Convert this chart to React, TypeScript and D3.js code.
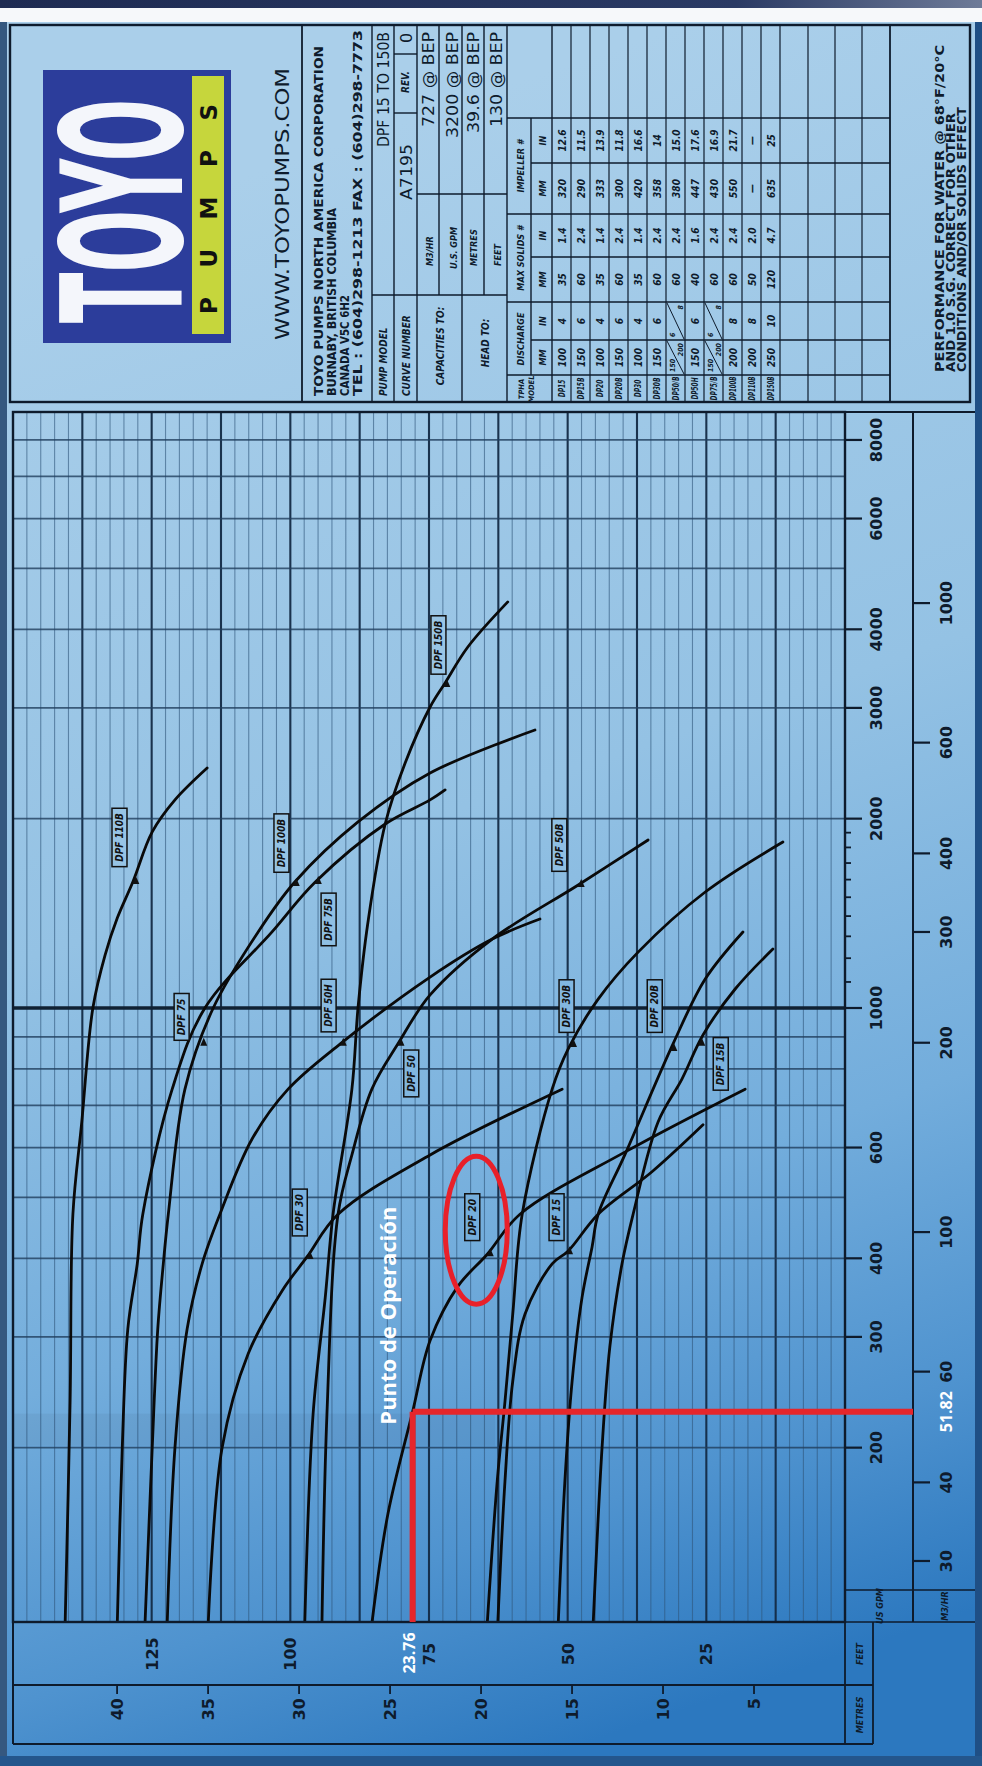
import React from "react";
import * as d3 from "d3";

const W = 982;
const H = 1766;
const GPM_PER_M3H = 4.40287;
const FT_PER_M = 3.28084;

// Flow scale ticks (U.S. GPM and m3/h), flow grid, head ticks
const gpmTicks = [200, 300, 400, 600, 1000, 2000, 3000, 4000, 6000, 8000];
const gpmMinorTicks = [1100, 1200, 1300, 1400, 1500, 1600, 1700, 1800, 1900];
const m3hTicks = [30, 40, 60, 100, 200, 300, 400, 600, 1000];
const flowGrid = [200, 300, 400, 500, 600, 700, 800, 900, 1000, 2000, 3000, 4000, 5000, 6000, 7000, 8000];
const feetTicks = [25, 50, 75, 100, 125];
const metreTicks = [5, 10, 15, 20, 25, 30, 35, 40];

// Head-capacity curves: [U.S. GPM, head ft]
const dpf110B = [[105, 140.6], [238, 139.7], [470, 139.2], [659, 137.6], [1000, 135.6], [1214, 133.4], [1390, 131.2], [1586, 128.4], [1905, 124.9], [2142, 120.8], [2407, 115.0]];
const dpf75 = [[105, 131.2], [200, 130.3], [309, 129.3], [392, 127.6], [470, 126.6], [743, 121.3], [1000, 115.4], [1321, 103.3], [1586, 95.5], [1961, 82.9], [2142, 74.8], [2222, 72.1]];
const dpf100B = [[105, 126.2], [200, 124.9], [309, 123.9], [392, 122.9], [470, 122.0], [743, 119.0], [1000, 113.9], [1321, 105.8], [1586, 99.2], [1976, 87.8], [2364, 74.8], [2767, 55.9]];
const dpf50H = [[105, 122.2], [200, 120.8], [309, 118.6], [392, 115.9], [470, 112.7], [619, 106.9], [743, 100.4], [877, 91.0], [1120, 74.8], [1287, 63.6], [1385, 55.0]];
const dpf50 = [[105, 94.3], [226, 93.4], [470, 91.4], [584, 88.9], [743, 85.3], [877, 80.6], [1049, 74.8], [1287, 63.6], [1569, 48.1], [1850, 35.5]];
const dpf150B = [[105, 97.4], [226, 95.9], [347, 93.7], [470, 92.3], [743, 88.9], [1000, 87.8], [1370, 86.0], [1961, 82.9], [2452, 79.3], [3010, 74.8], [3287, 72.1], [3749, 68.0], [4422, 60.8]];
const dpf30 = [[105, 114.8], [200, 112.3], [282, 107.6], [355, 101.5], [402, 97.0], [470, 91.4], [584, 74.8], [743, 51.0]];
const dpf30B = [[105, 64.5], [177, 62.7], [237, 61.3], [326, 59.9], [470, 58.2], [743, 52.8], [861, 49.9], [1033, 44.5], [1227, 37.3], [1529, 25.2], [1836, 11.2]];
const dpf20 = [[105, 85.3], [157, 82.4], [228.2, 77.95], [296, 74.8], [361, 69.8], [406, 64.5], [470, 58.6], [590, 39.7], [743, 18.0]];
const dpf15 = [[105, 62.6], [177, 61.3], [255, 59.9], [326, 57.7], [392, 52.8], [411, 49.9], [470, 44.5], [549, 34.8], [652, 25.6]];
const dpf20B = [[105, 51.7], [177, 50.5], [255, 49.2], [347, 47.4], [417, 45.6], [470, 44.5], [584, 39.7], [877, 31.0], [1112, 25.2], [1321, 18.4]];
const dpf15B = [[105, 45.4], [200, 43.8], [289, 42.4], [392, 40.2], [470, 38.2], [659, 33.7], [771, 29.4], [906, 25.6], [1072, 19.8], [1241, 13.0]];

const curves = [dpf110B, dpf75, dpf100B, dpf50H, dpf50, dpf150B, dpf30, dpf30B, dpf20, dpf15, dpf20B, dpf15B];

// Model tags: text, tag centre [GPM, ft], curve carrying the BEP arrow, arrow flow (GPM)
const tags = [
  { text: "DPF 110B", at: [1867, 130.8], curve: dpf110B, arrow: 1586 },
  { text: "DPF 100B", at: [1829, 101.6], curve: dpf100B, arrow: 1574 },
  { text: "DPF 75B", at: [1383, 93.1], curve: dpf75, arrow: 1586 },
  { text: "DPF 75", at: [968, 119.6], curve: dpf100B, arrow: 877 },
  { text: "DPF 50H", at: [1009, 93.1], curve: dpf50H, arrow: 877 },
  { text: "DPF 50", at: [787, 78.2], curve: dpf50, arrow: 877 },
  { text: "DPF 50B", at: [1816, 51.5], curve: dpf50, arrow: 1569 },
  { text: "DPF 30B", at: [1007, 50.2], curve: dpf30B, arrow: 873 },
  { text: "DPF 20B", at: [1007, 34.3], curve: dpf20B, arrow: 861 },
  { text: "DPF 15B", at: [815, 22.4], curve: dpf15B, arrow: 877 },
  { text: "DPF 30", at: [473, 98.3], curve: dpf30, arrow: 402 },
  { text: "DPF 20", at: [465, 67.2], curve: dpf20, arrow: 406 },
  { text: "DPF 15", at: [465, 52.0], curve: dpf15, arrow: 409 },
  { text: "DPF 150B", at: [3777, 73.3], curve: dpf150B, arrow: 3263 },
];

// Operating point: 51.82 m3/h at 23.76 m
const opFlowM3h = 51.82;
const opHeadM = 23.76;

// Model data table
const tableModels = ["DP15", "DP15B", "DP20", "DP20B", "DP30", "DP30B", "DP50/B", "DP50H", "DP75/B", "DP100B", "DP110B", "DP150B"];
const dischargeMM = ["100", "150", "100", "150", "100", "150", "150/200", "150", "150/200", "200", "200", "250"];
const dischargeIN = ["4", "6", "4", "6", "4", "6", "6/8", "6", "6/8", "8", "8", "10"];
const solidsMM = ["35", "60", "35", "60", "35", "60", "60", "40", "60", "60", "50", "120"];
const solidsIN = ["1.4", "2.4", "1.4", "2.4", "1.4", "2.4", "2.4", "1.6", "2.4", "2.4", "2.0", "4.7"];
const impellerMM = ["320", "290", "333", "300", "420", "358", "380", "447", "430", "550", "\u2014", "635"];
const impellerIN = ["12.6", "11.5", "13.9", "11.8", "16.6", "14", "15.0", "17.6", "16.9", "21.7", "\u2014", "25"];

const addressLines = [
  "TOYO PUMPS NORTH AMERICA CORPORATION",
  "BURNABY, BRITISH COLUMBIA",
  "CANADA V5C 6H2",
  "TEL : (604)298-1213 FAX : (604)298-7773",
];
const noteLines = [
  "PERFORMANCE FOR WATER @ 68\u00b0F/20\u00b0C",
  "AND 1.0 S.G. CORRECT FOR OTHER",
  "CONDITIONS AND/OR SOLIDS EFFECT",
];

const INK = "#0e1b2c";
const NARROW = "'Liberation Sans Narrow', 'DejaVu Sans Condensed', 'Roboto Condensed', 'Liberation Sans', sans-serif";
const WIDE = "'DejaVu Sans', 'Open Sans', sans-serif";

// page background gradient (screen space)
const BG = { x1: 0, y1: 260, x2: 520, y2: 1766 };
const bgStops: [number, string][] = [
  [0, "#aacfea"],
  [0.42, "#94c2e4"],
  [0.68, "#73addc"],
  [0.86, "#4f93cf"],
  [1, "#2c78bf"],
];
function bgAt(x: number, y: number) {
  const dx = BG.x2 - BG.x1;
  const dy = BG.y2 - BG.y1;
  let t = ((x - BG.x1) * dx + (y - BG.y1) * dy) / (dx * dx + dy * dy);
  t = Math.max(0, Math.min(1, t));
  for (let i = 1; i < bgStops.length; i++) {
    if (t <= bgStops[i][0]) {
      const k = (t - bgStops[i - 1][0]) / (bgStops[i][0] - bgStops[i - 1][0]);
      return d3.interpolateRgb(bgStops[i - 1][1], bgStops[i][1])(k);
    }
  }
  return bgStops[bgStops.length - 1][1];
}

function headAt(points: number[][], q: number) {
  for (let i = 1; i < points.length; i++) {
    const [q0, h0] = points[i - 1];
    const [q1, h1] = points[i];
    if (q <= q1) {
      const t = (Math.log(q) - Math.log(q0)) / (Math.log(q1) - Math.log(q0));
      return h0 + t * (h1 - h0);
    }
  }
  return points[points.length - 1][1];
}

export default function App() {
  // Landscape frame: u runs along flow, v runs down the head axis.
  const flow = d3.scaleLog().domain([1000, 10000]).range([758, 1387]);
  const head = d3.scaleLinear().domain([0, 150]).range([845, 13]);
  const U0 = 144;
  const U1 = 1354;
  const V0 = head(150);
  const V1 = head(0);
  const VAX = 913; // m3/h axis line
  const VR = 975;

  const line = d3
    .line()
    .x((d: any) => flow(d[0]))
    .y((d: any) => head(d[1]))
    .curve(d3.curveCatmullRom.alpha(0.5));

  const headLines: number[] = d3.range(2.5, 150, 2.5);

  // Title block layout (landscape)
  const TB = { u0: 1364, u1: 1741, v0: 10, v1: 970 };
  const rowTop = 552;
  const rowH = 19;
  const emptyRows = [808, 835, 862];
  const tableEnd = 890;
  const colX = [1364, 1391, 1426, 1464, 1509, 1552, 1603, 1648];
  const cols = [tableModels, dischargeMM, dischargeIN, solidsMM, solidsIN, impellerMM, impellerIN];

  const opQ = opFlowM3h * GPM_PER_M3H;
  const opH = opHeadM * FT_PER_M;

  const tb: any[] = [];
  const L = (u1: number, v1: number, u2: number, v2: number, w = 1.4, k = "") =>
    tb.push(<line key={"l" + tb.length + k} x1={u1} y1={v1} x2={u2} y2={v2} stroke={INK} strokeWidth={w} />);

  // horizontal rules
  [302, 372, 394, 417, 462, 507, 552].forEach((v) => L(TB.u0, v, TB.u1, v, v === 302 ? 1.8 : 1.4));
  for (let i = 1; i <= 12; i++) L(TB.u0, rowTop + i * rowH, TB.u1, rowTop + i * rowH, 1.2);
  emptyRows.forEach((v) => L(TB.u0, v, TB.u1, v, 1.2));
  L(TB.u0, tableEnd, TB.u1, tableEnd, 1.8);
  // pump model / curve number dividers
  L(1471, 372, 1471, 417);
  L(1653, 394, 1653, 417);
  L(1712, 394, 1712, 417);
  // capacities / head
  L(1471, 417, 1471, 507);
  L(1572, 417, 1572, 507);
  L(1471, 439, TB.u1, 439);
  L(1471, 484, TB.u1, 484);
  // table columns
  [1391, 1464, 1552, 1648].forEach((u) => L(u, 507, u, tableEnd));
  [1426, 1509, 1603].forEach((u) => L(u, 531, u, tableEnd));
  L(1391, 531, 1648, 531);

  const txt = (key: string, u: number, v: number, s: string, size: number, opts: any = {}) =>
    tb.push(
      <text
        key={key}
        x={u}
        y={v}
        fontSize={size}
        fontFamily={opts.family || NARROW}
        fontWeight={opts.weight || 700}
        fontStyle={opts.italic === false ? "normal" : "italic"}
        textAnchor={opts.anchor || "start"}
        textLength={opts.len}
        lengthAdjust={opts.len ? "spacingAndGlyphs" : undefined}
        fill={opts.fill || INK}
      >
        {s}
      </text>
    );

  addressLines.forEach((s, i) => txt("addr" + i, 1370, 323 + i * 13, s, 12.5, { italic: false, len: [350, 188, 101, 366][i] }));
  const VAL = { family: WIDE, weight: 400, italic: false, anchor: "end" };
  txt("pm", 1370, 387, "PUMP MODEL", 10);
  txt("pmv", 1734, 389, "DPF 15 TO 150B", 16, { ...VAL, len: 115 });
  txt("cn", 1370, 410, "CURVE NUMBER", 10);
  txt("cnv", 1594, 412, "A7195", 16, { ...VAL, anchor: "middle", len: 56 });
  txt("rev", 1684, 409, "REV.", 10, { anchor: "middle" });
  txt("revv", 1728, 412, "0", 16, { ...VAL, anchor: "middle" });
  txt("cap", 1420, 444, "CAPACITIES TO:", 10, { anchor: "middle" });
  txt("capu1", 1500, 433, "M3/HR", 9);
  txt("capu2", 1497, 457, "U.S. GPM", 9);
  txt("capv1", 1734, 434, "727 @ BEP", 16, { ...VAL, len: 95 });
  txt("capv2", 1734, 458, "3200 @ BEP", 16, { ...VAL, len: 106 });
  txt("hd", 1423, 489, "HEAD TO:", 10, { anchor: "middle" });
  txt("hdu1", 1500, 477, "METRES", 9);
  txt("hdu2", 1500, 501, "FEET", 9);
  txt("hdv1", 1734, 479, "39.6 @ BEP", 16, { ...VAL, len: 101 });
  txt("hdv2", 1734, 502, "130 @ BEP", 16, { ...VAL, len: 95 });
  txt("th1", 1377, 524, "TPHA", 7.5, { anchor: "middle" });
  txt("th2", 1377, 534, "MODEL", 7.5, { anchor: "middle" });
  txt("th3", 1427, 524, "DISCHARGE", 9, { anchor: "middle" });
  txt("th4", 1508, 524, "MAX SOLIDS #", 9, { anchor: "middle" });
  txt("th5", 1600, 524, "IMPELLER #", 9, { anchor: "middle" });
  ["MM", "IN", "MM", "IN", "MM", "IN"].forEach((s, i) =>
    txt("sub" + i, (colX[i + 1] + colX[i + 2]) / 2, 546, s, 9, { anchor: "middle" })
  );
  cols.forEach((col, c) =>
    col.forEach((s, r) => {
      const u = (colX[c] + colX[c + 1]) / 2;
      const vTop = rowTop + r * rowH;
      if (s.includes("/") && c > 0) {
        const [a, b] = s.split("/");
        L(colX[c] + 1, vTop + rowH - 1, colX[c + 1] - 1, vTop + 1, 1, "d" + c + r);
        txt("s" + c + "-" + r + "a", colX[c] + 3, vTop + 9, a, 7, {});
        txt("s" + c + "-" + r + "b", colX[c + 1] - 3, vTop + 17, b, 7, { anchor: "end" });
      } else if (c === 0) {
        txt("s" + c + "-" + r, u, vTop + 13, s, 8, { anchor: "middle", len: Math.min(24, s.length * 4.4) });
      } else {
        txt("s" + c + "-" + r, u, vTop + 13.5, s, 10, { anchor: "middle" });
      }
    })
  );
  noteLines.forEach((s, i) => txt("note" + i, 1394, 944 + i * 11, s, 11.5, { italic: false, len: [327, 259, 265][i] }));

  return (
    <div style={{ position: "absolute", left: 0, top: 0, width: W, height: H }}>
      <svg width={W} height={H} style={{ display: "block" }}>
        <defs>
          <linearGradient id="bg" gradientUnits="userSpaceOnUse" x1={BG.x1} y1={BG.y1} x2={BG.x2} y2={BG.y2}>
            {bgStops.map(([o, c]) => (
              <stop key={o} offset={o} stopColor={c} />
            ))}
          </linearGradient>
          <linearGradient id="topband" x1="0" y1="0" x2="1" y2="0">
            <stop offset="0" stopColor="#1e2b52" />
            <stop offset="0.75" stopColor="#2a3a64" />
            <stop offset="1" stopColor="#6e7b98" />
          </linearGradient>
          <clipPath id="plotClip">
            <rect x={U0} y={V0} width={U1 - U0} height={V1 - V0} />
          </clipPath>
        </defs>

        <rect x={0} y={0} width={W} height={H} fill="url(#bg)" />

        <g transform={`translate(0,${H}) rotate(-90)`}>
          {/* title block */}
          <rect x={TB.u0} y={TB.v0} width={TB.u1 - TB.u0} height={TB.v1 - TB.v0} fill="none" stroke={INK} strokeWidth={2.4} />
          <rect x={1423} y={43} width={273} height={188} fill="#2c3d9b" />
          <text transform="translate(1443,182) scale(0.44,1)" x={0} y={0} fontSize={168} fontFamily={WIDE} fontWeight={700} fill="#f4f6fb">
            TOYO
          </text>
          <rect x={1432} y={192} width={258} height={32} fill="#c6d63c" />
          <text x={1452} y={217} fontSize={23} fontFamily={WIDE} fontWeight={700} fill="#111" textLength={210} lengthAdjust="spacing">
            PUMPS
          </text>
          <text x={1562} y={289} fontSize={20} fontFamily={WIDE} fontWeight={400} fill={INK} textAnchor="middle" textLength={272} lengthAdjust="spacingAndGlyphs">
            WWW.TOYOPUMPS.COM
          </text>
          {tb}

          {/* plot grid */}
          <g clipPath="url(#plotClip)">
            {headLines.map((h) => {
              const major = Math.abs(h / 12.5 - Math.round(h / 12.5)) < 1e-6;
              return (
                <line
                  key={"h" + h}
                  x1={U0}
                  x2={U1}
                  y1={head(h)}
                  y2={head(h)}
                  stroke={major ? "#132a44" : "#2e557a"}
                  strokeOpacity={major ? 0.95 : 0.6}
                  strokeWidth={major ? 2.1 : 1.1}
                />
              );
            })}
            {flowGrid.map((q) => (
              <line
                key={"q" + q}
                x1={flow(q)}
                x2={flow(q)}
                y1={V0}
                y2={V1}
                stroke={q === 1000 ? "#0f2133" : "#203f5e"}
                strokeOpacity={q === 1000 ? 1 : 0.8}
                strokeWidth={q === 1000 ? 3.4 : 1.7}
              />
            ))}
            {/* faint shading under the operating-point marker */}
            <rect x={flow(opQ) - 34} y={V0} width={32} height={495 - V0} fill="#0b1a2c" fillOpacity={0.05} />
            {curves.map((c, i) => (
              <path key={"c" + i} d={line(c as any) || ""} fill="none" stroke="#0a0a0a" strokeWidth={2.8} strokeLinecap="round" />
            ))}
          </g>

          {/* model tags and BEP arrows */}
          {tags.map((t) => {
            const cu = flow(t.at[0]);
            const cv = head(t.at[1]);
            const wBox = t.text.length * 5.8 + 12;
            const au = flow(t.arrow);
            const av = head(headAt(t.curve, t.arrow));
            return (
              <g key={t.text}>
                <rect x={cu - wBox / 2} y={cv - 7.5} width={wBox} height={15} fill={bgAt(cv, H - cu)} stroke="#111" strokeWidth={1.5} />
                <text
                  x={cu}
                  y={cv + 3.6}
                  fontSize={10}
                  fontFamily={NARROW}
                  fontWeight={700}
                  fontStyle="italic"
                  textAnchor="middle"
                  fill="#111"
                  textLength={wBox - 10}
                  lengthAdjust="spacingAndGlyphs"
                >
                  {t.text}
                </text>
                <path d={`M${au + 6},${av + 3} L${au - 2},${av - 0.5} L${au - 2},${av + 6.5} Z`} fill="#111" />
              </g>
            );
          })}

          {/* plot frame */}
          <rect x={U0} y={V0} width={U1 - U0} height={V1 - V0} fill="none" stroke={INK} strokeWidth={2.4} />
          <line x1={U1} y1={V1} x2={U1} y2={VR} stroke={INK} strokeWidth={2} />
          <line x1={176} y1={V1} x2={176} y2={VR} stroke={INK} strokeWidth={1.6} />
          <line x1={144} y1={VAX} x2={U1} y2={VAX} stroke={INK} strokeWidth={2} />
          <line x1={144} y1={V1} x2={144} y2={VR} stroke={INK} strokeWidth={1.6} />

          {/* head scale rows */}
          <line x1={22} y1={V0} x2={U0} y2={V0} stroke={INK} strokeWidth={2} />
          <line x1={81} y1={V0} x2={81} y2={873} stroke={INK} strokeWidth={1.8} />
          <line x1={22} y1={V0} x2={22} y2={873} stroke={INK} strokeWidth={1.8} />
          <line x1={22} y1={V1} x2={U0} y2={V1} stroke={INK} strokeWidth={1.8} />
          <line x1={22} y1={873} x2={U0} y2={873} stroke={INK} strokeWidth={1.8} />

          {feetTicks.map((f) => (
            <text key={"ft" + f} x={112} y={head(f) + 6} fontSize={16} fontFamily={WIDE} fontWeight={700} textAnchor="middle" fill={INK}>
              {f}
            </text>
          ))}
          {metreTicks.map((m) => (
            <g key={"m" + m}>
              <line x1={72} x2={81} y1={head(m * FT_PER_M)} y2={head(m * FT_PER_M)} stroke={INK} strokeWidth={1.8} />
              <text x={68} y={head(m * FT_PER_M) + 6} fontSize={16} fontFamily={WIDE} fontWeight={700} textAnchor="end" fill={INK}>
                {m}
              </text>
            </g>
          ))}
          <text x={112} y={863} fontSize={9} fontFamily={NARROW} fontWeight={700} fontStyle="italic" textAnchor="middle" fill={INK}>
            FEET
          </text>
          <text x={51} y={863} fontSize={9} fontFamily={NARROW} fontWeight={700} fontStyle="italic" textAnchor="middle" fill={INK}>
            METRES
          </text>
          <text x={160} y={883} fontSize={9} fontFamily={NARROW} fontWeight={700} fontStyle="italic" textAnchor="middle" fill={INK}>
            US GPM
          </text>
          <text x={160} y={948} fontSize={9} fontFamily={NARROW} fontWeight={700} fontStyle="italic" textAnchor="middle" fill={INK}>
            M3/HR
          </text>

          {/* flow scales */}
          {gpmTicks.map((q) => (
            <g key={"g" + q}>
              <line x1={flow(q)} x2={flow(q)} y1={V1} y2={862} stroke={INK} strokeWidth={2.2} />
              <text x={flow(q)} y={882} fontSize={16} fontFamily={WIDE} fontWeight={700} textAnchor="middle" fill={INK}>
                {q}
              </text>
            </g>
          ))}
          {gpmMinorTicks.map((q) => (
            <line key={"gm" + q} x1={flow(q)} x2={flow(q)} y1={V1} y2={851} stroke={INK} strokeWidth={1.8} />
          ))}
          {m3hTicks.map((m) => (
            <g key={"mh" + m}>
              <line x1={flow(m * GPM_PER_M3H)} x2={flow(m * GPM_PER_M3H)} y1={VAX} y2={930} stroke={INK} strokeWidth={2.2} />
              <text x={flow(m * GPM_PER_M3H)} y={952} fontSize={16} fontFamily={WIDE} fontWeight={700} textAnchor="middle" fill={INK}>
                {m}
              </text>
            </g>
          ))}

          {/* operating point */}
          <g>
            <line x1={U0} y1={head(opH)} x2={flow(opQ)} y2={head(opH)} stroke="#e5262b" strokeWidth={6} />
            <line x1={flow(opQ)} y1={head(opH)} x2={flow(opQ)} y2={VAX} stroke="#e5262b" strokeWidth={6} />
            <ellipse cx={flow(465) - 13} cy={head(67.2) + 4} rx={74} ry={31} fill="none" stroke="#e8202a" strokeWidth={5} />
            <text x={flow(opQ) - 13} y={head(opH) - 17} fontSize={22} fontFamily="'Open Sans', sans-serif" fontWeight={700} fill="#ffffff">
              Punto de Operación
            </text>
            <text x={113} y={head(opH) + 2} fontSize={16} fontFamily="'Open Sans', sans-serif" fontWeight={700} fill="#ffffff" textAnchor="middle">
              {opHeadM}
            </text>
            <text x={flow(opQ)} y={952} fontSize={16} fontFamily="'Open Sans', sans-serif" fontWeight={700} fill="#ffffff" textAnchor="middle">
              {opFlowM3h}
            </text>
          </g>
        </g>

        {/* page frame */}
        <rect x={0} y={0} width={W} height={8} fill="url(#topband)" />
        <rect x={0} y={8} width={W} height={14} fill="#f6f8fa" />
        <rect x={0} y={22} width={7} height={H - 22} fill="#35587f" />
        <rect x={W - 7} y={22} width={7} height={H - 22} fill="#1f4f85" />
        <rect x={0} y={H - 10} width={W} height={10} fill="#24568c" />
      </svg>
    </div>
  );
}
